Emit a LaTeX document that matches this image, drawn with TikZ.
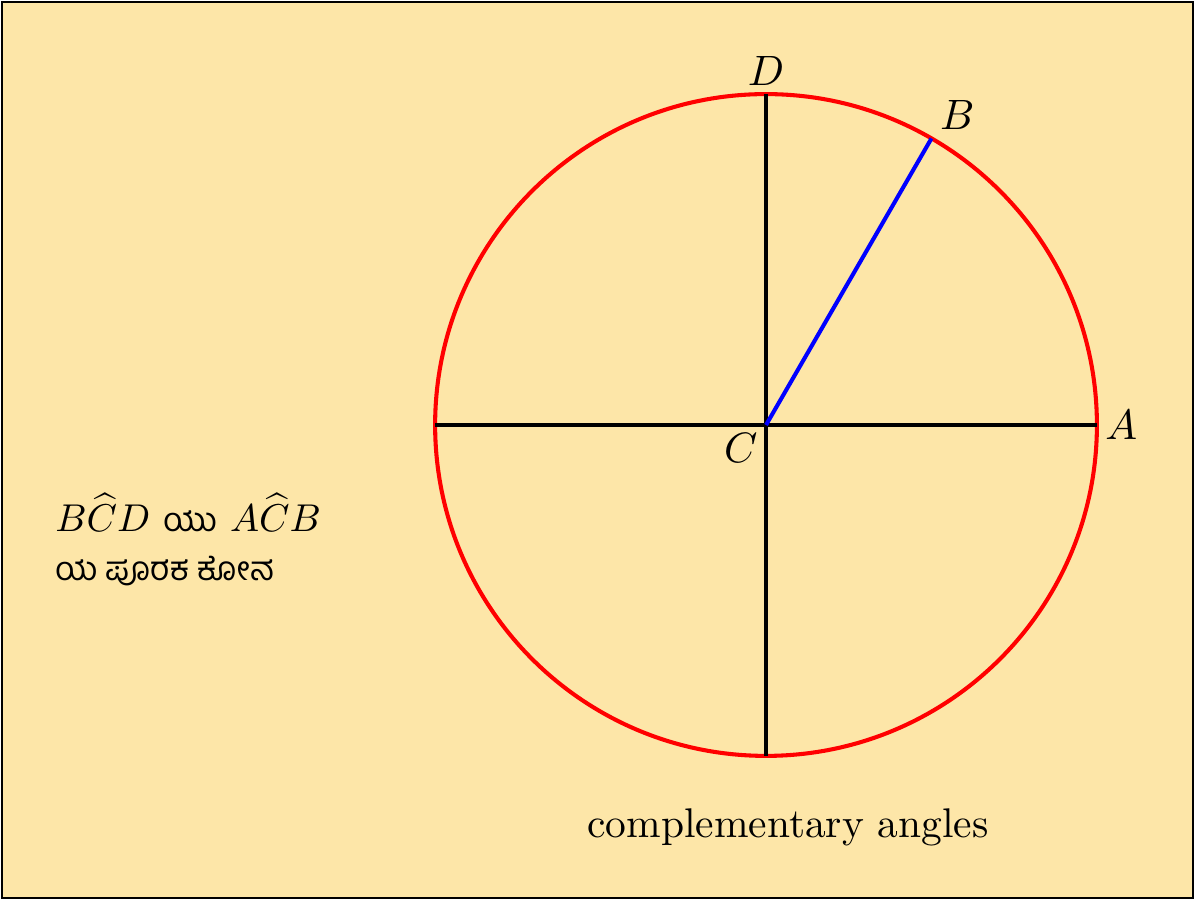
\documentclass[tikz,border=0pt]{standalone}
\usepackage{amsmath,amssymb}
\usepackage{fontspec}
\newfontfamily\kannadafont[Script=Kannada,Scale=0.86]{Hind Mysuru}
\usepackage{xcolor}
\usetikzlibrary{positioning, calc}
\definecolor{paper}{RGB}{253,230,168}
\tikzset{
  circleline/.style={red, line width=1.05pt},
  axisline/.style={black, line width=0.8pt},
  radiusline/.style={blue, line width=1.05pt},
  pointlabel/.style={inner sep=2pt},
  notetext/.style={align=left, anchor=west, inner sep=0pt,
    font=\fontsize{10}{12.5}\selectfont},
}

\begin{document}
\begin{tikzpicture}[every node/.style={font=\fontsize{10.7}{13}\selectfont}]
  \useasboundingbox (-6.945,-4.306) rectangle (3.889,3.853);
  % ── Frame ──────────────────────────────────────────────────────
  \draw[fill=paper, line width=0.4pt]
    (-6.927,-4.288) rectangle (3.871,3.835);

  % ── Points on the circle ───────────────────────────────────────
  \coordinate (C) at (0,0);
  \coordinate (A) at (0:3);
  \coordinate (B) at (60:3);
  \coordinate (D) at (90:3);
  \coordinate (E) at (180:3);
  \coordinate (F) at (270:3);

  % ── Circle and diameters ───────────────────────────────────────
  \draw[circleline] (C) circle (3);
  \draw[axisline] (E) -- (A);
  \draw[axisline] (F) -- (D);
  \draw[radiusline] (C) -- (B);

  % ── Labels ─────────────────────────────────────────────────────
  \node[pointlabel, anchor=west] (labA) at (A) {$A$};
  \node[pointlabel, anchor=south west] (labB) at (B) {$B$};
  \node[pointlabel, anchor=north east] (labC) at (C) {$C$};
  \node[pointlabel, anchor=south] (labD) at (D) {$D$};

  % ── Side note ──────────────────────────────────────────────────
  \node[notetext] (note) at (-6.45,-1.04)
    {$B\widehat{C}D$ {\kannadafont ಯು} $A\widehat{C}B$\\
     {\kannadafont ಯ ಪೂರಕ ಕೋನ}};
  \node (caption) at (0.2,-3.65) {complementary angles};
\end{tikzpicture}
\end{document}
